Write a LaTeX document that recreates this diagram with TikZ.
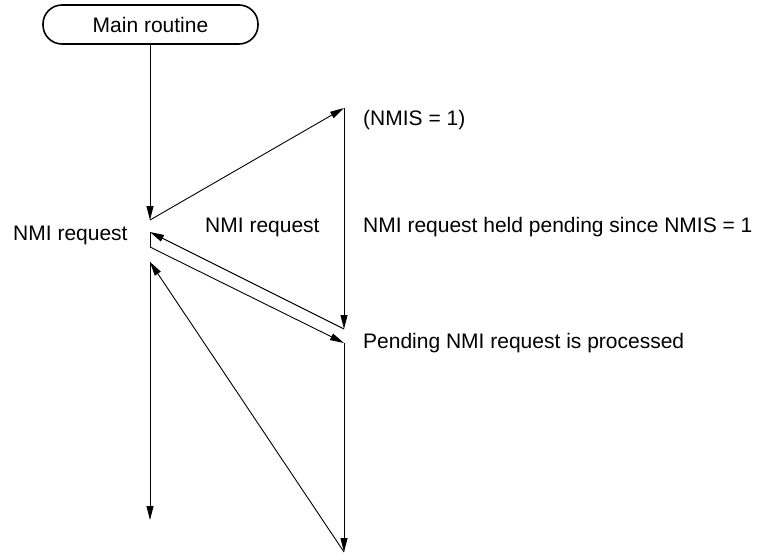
\documentclass[tikz,border=0pt]{standalone}
\usepackage{fontspec}
\setmainfont{Liberation Sans}
\usetikzlibrary{arrows.meta}
\begin{document}
\begin{tikzpicture}[x=1pt,y=-1pt,
  lbl/.style={inner sep=0pt,anchor=base west,font=\fontsize{21}{25}\selectfont},
  conn/.style={line width=0.9pt,-{Triangle[length=14pt,width=7pt]}},
  plain/.style={line width=0.9pt},
  term/.style={draw,line width=1.6pt,rounded corners=19pt,minimum width=215pt,minimum height=39pt,inner sep=0pt,font=\fontsize{21}{25}\selectfont}]
\useasboundingbox (0,0) rectangle (759,554);
\node[term] (main) at (150.5,24.5) {Main routine};
\coordinate (a1) at (150,220);
\coordinate (b1) at (344,108);
\coordinate (b2) at (344,329);
\coordinate (a2) at (150,232);
\coordinate (a3) at (150,247);
\coordinate (b3) at (344,343);
\coordinate (b4) at (344,552);
\coordinate (a4) at (150,262);
\coordinate (a5) at (150,520);
\draw[conn] (main.south -| a1) -- (a1);
\draw[conn] (a1) -- (b1);
\draw[conn] (b1) -- (b2);
\draw[conn] (b2) -- (a2);
\draw[plain] (a2) -- (a3);
\draw[conn] (a3) -- (b3);
\draw[conn] (b3) -- (b4);
\draw[conn] (b4) -- (a4);
\draw[conn] (a4) -- (a5);
\node[lbl] (req1) at (13,240) {NMI request};
\node[lbl] (req2) at (205,232) {NMI request};
\node[lbl] (nmis) at (363,125) {(NMIS = 1)};
\node[lbl] (held) at (363,232) {NMI request held pending since NMIS = 1};
\node[lbl] (proc) at (363,348) {Pending NMI request is processed};
\end{tikzpicture}
\end{document}
